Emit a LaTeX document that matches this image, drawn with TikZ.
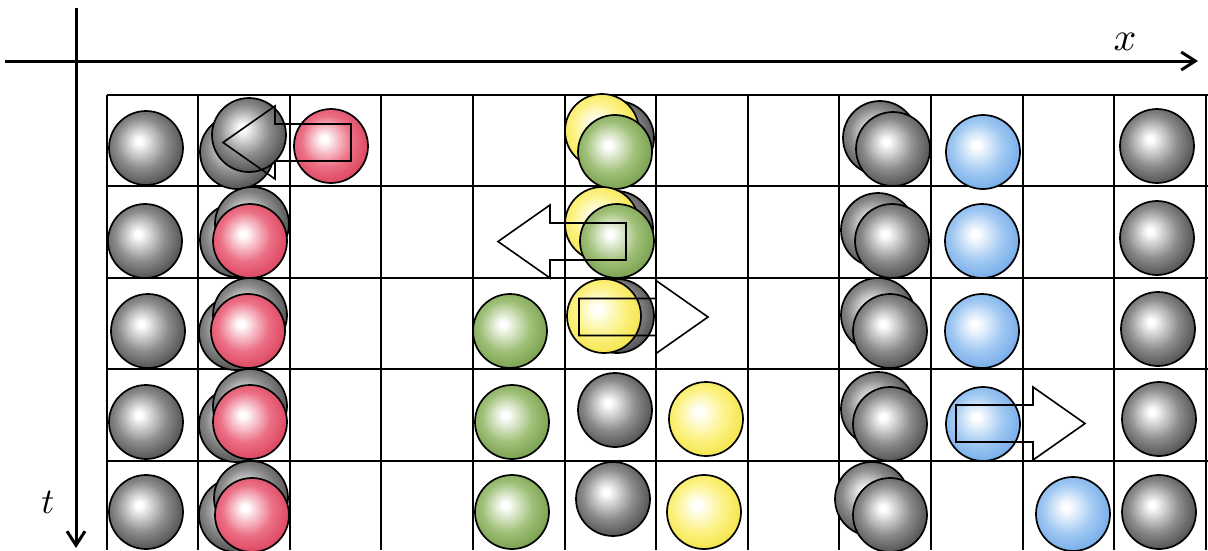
\documentclass[tikz,border=0pt]{standalone}
\usetikzlibrary{arrows.meta}
\definecolor{graymid}{RGB}{140,140,140}
\definecolor{grayedge}{RGB}{55,55,55}
\definecolor{redmid}{RGB}{236,112,134}
\definecolor{rededge}{RGB}{212,50,78}
\definecolor{greenmid}{RGB}{160,192,120}
\definecolor{greenedge}{RGB}{104,146,62}
\definecolor{yellowmid}{RGB}{252,242,130}
\definecolor{yellowedge}{RGB}{240,222,50}
\definecolor{bluemid}{RGB}{160,200,242}
\definecolor{blueedge}{RGB}{100,160,230}
\pgfdeclareradialshading{ballgray}{\pgfpoint{-5bp}{5bp}}{color(0bp)=(white); color(2bp)=(white); color(17bp)=(graymid); color(33bp)=(grayedge); color(50bp)=(grayedge)}
\pgfdeclareradialshading{ballred}{\pgfpoint{-5bp}{5bp}}{color(0bp)=(white); color(2bp)=(white); color(17bp)=(redmid); color(33bp)=(rededge); color(50bp)=(rededge)}
\pgfdeclareradialshading{ballgreen}{\pgfpoint{-5bp}{5bp}}{color(0bp)=(white); color(2bp)=(white); color(17bp)=(greenmid); color(33bp)=(greenedge); color(50bp)=(greenedge)}
\pgfdeclareradialshading{ballyellow}{\pgfpoint{-5bp}{5bp}}{color(0bp)=(white); color(2bp)=(white); color(17bp)=(yellowmid); color(33bp)=(yellowedge); color(50bp)=(yellowedge)}
\pgfdeclareradialshading{ballblue}{\pgfpoint{-5bp}{5bp}}{color(0bp)=(white); color(2bp)=(white); color(17bp)=(bluemid); color(33bp)=(blueedge); color(50bp)=(blueedge)}
\tikzset{
  ball/.style={circle, draw=black, line width=1.7pt, minimum size=74pt, inner sep=0pt, shade},
  gb/.style={ball, shading=ballgray},
  rb/.style={ball, shading=ballred},
  grb/.style={ball, shading=ballgreen},
  yb/.style={ball, shading=ballyellow},
  bb/.style={ball, shading=ballblue},
  gridline/.style={line width=1.5pt, black},
  axis/.style={line width=3pt, -{Straight Barb[length=14pt, width=18pt, line width=3pt]}},
  movearrow/.style={line width=1.6pt, black, line join=miter},
  lbl/.style={inner sep=0pt}
}
\begin{document}
\begin{tikzpicture}[x=1pt, y=-1pt]
\useasboundingbox (0,0) rectangle (1208,550);
% grid
\foreach \gx in {107,198,290,381,473,565,656,748,839,931,1023,1114,1206}
  \draw[gridline] (\gx,95) -- (\gx,550);
\foreach \gy in {95,186,278,369,461}
  \draw[gridline] (107,\gy) -- (1208,\gy);
% axes
\coordinate (xs) at (5,61);
\coordinate (xe) at (1198,61);
\coordinate (ts) at (76,8);
\coordinate (te) at (76,548);
\draw[axis] (xs) -- (xe);
\draw[axis] (ts) -- (te);
\node[lbl] (xl) at (1125,42) {\scalebox{4}{$x$}};
\node[lbl] (tl) at (48,502) {\scalebox{3.6}{$t$}};
% column 1
\node[gb] (a1) at (146,148) {};
\node[gb] (a2) at (145,241) {};
\node[gb] (a3) at (148,331) {};
\node[gb] (a4) at (146,422) {};
\node[gb] (a5) at (146,512) {};
% column 2
\node[gb] (b1l) at (237,152) {};
\node[gb] (b1u) at (249,135) {};
\node[gb] (b2l) at (237,240) {};
\node[gb] (b2u) at (252,224) {};
\node[rb] (b2r) at (250,241) {};
\node[gb] (b3l) at (236,333) {};
\node[gb] (b3u) at (250,315) {};
\node[rb] (b3r) at (248,331) {};
\node[gb] (b4l) at (236,425) {};
\node[gb] (b4u) at (250,406) {};
\node[rb] (b4r) at (250,422) {};
\node[gb] (b5l) at (236,515) {};
\node[gb] (b5u) at (251,498) {};
\node[rb] (b5r) at (252,515) {};
% column 3 red
\node[rb] (c1) at (331,146) {};
% column 5 green
\node[grb] (e3) at (510,331) {};
\node[grb] (e4) at (512,422) {};
\node[grb] (e5) at (512,512) {};
% column 6
\node[gb] (f1g) at (617,138) {};
\node[yb] (f1y) at (602,131) {};
\node[grb] (f1gr) at (615,152) {};
\node[gb] (f2g) at (616,228) {};
\node[yb] (f2y) at (602,224) {};
\node[grb] (f2gr) at (617,241) {};
\node[gb] (f3g) at (617,316) {};
\node[yb] (f3y) at (604,316) {};
\node[gb] (f4) at (615,410) {};
\node[gb] (f5) at (613,499) {};
% column 7 yellow
\node[yb] (g4) at (706,419) {};
\node[yb] (g5) at (704,512) {};
% column 9
\node[gb] (i1b) at (880,138) {};
\node[gb] (i1f) at (893,149) {};
\node[gb] (i2b) at (878,230) {};
\node[gb] (i2f) at (892,241) {};
\node[gb] (i3b) at (878,315) {};
\node[gb] (i3f) at (890,331) {};
\node[gb] (i4b) at (878,409) {};
\node[gb] (i4f) at (890,424) {};
\node[gb] (i5b) at (872,499) {};
\node[gb] (i5f) at (890,515) {};
% column 10/11 blue
\node[bb] (j1) at (983,152) {};
\node[bb] (j2) at (982,241) {};
\node[bb] (j3) at (982,331) {};
\node[bb] (j4) at (983,424) {};
\node[bb] (k5) at (1073,514) {};
% column 12
\node[gb] (l1) at (1157,146) {};
\node[gb] (l2) at (1157,238) {};
\node[gb] (l3) at (1158,329) {};
\node[gb] (l4) at (1159,419) {};
\node[gb] (l5) at (1159,512) {};
% move arrows (outlines)
\draw[movearrow] (223,142.5) -- (275,106) -- (275,124) -- (351,124) -- (351,161) -- (275,161) -- (275,179) -- cycle;
\draw[movearrow] (498,241.5) -- (550,205) -- (550,223) -- (626,223) -- (626,260) -- (550,260) -- (550,278) -- cycle;
\draw[movearrow] (708,317) -- (656,280.5) -- (656,298.5) -- (579,298.5) -- (579,335.5) -- (656,335.5) -- (656,353.5) -- cycle;
\draw[movearrow] (1085,423.5) -- (1033,387) -- (1033,405) -- (956,405) -- (956,442) -- (1033,442) -- (1033,460) -- cycle;
\end{tikzpicture}
\end{document}
